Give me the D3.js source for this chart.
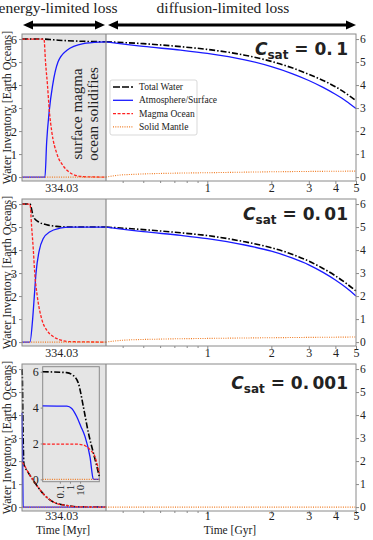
<!DOCTYPE html>
<html>
<head>
<meta charset="utf-8">
<script src="https://cdn.jsdelivr.net/npm/d3@7"></script>
<style>
body { margin: 0; background: #fff; }
svg { font-family: "Liberation Serif", "Times New Roman", serif; }
text { font-family: "Liberation Serif", "Times New Roman", serif; fill: #222; }
</style>
</head>
<body>
<div class="chart"></div>
<script>
// set up chart size
var svgWidth = 373;
var svgHeight = 540;

// panel labels
var csatValues = ['0.1', '0.01', '0.001'];
var legendNames = ['Total Water', 'Atmosphere/Surface', 'Magma Ocean', 'Solid Mantle'];
var yTicks = [0, 1, 2, 3, 4, 5, 6];
var lateMajorTicks = [1, 2, 3, 4, 5];
var lateMinorTicks = [0.4, 0.5, 0.6, 0.7, 0.8, 0.9];
var earlyTick = [28];           // kyr into the magma ocean phase
var earlyStartMyr = 334.002;
var insetTicks = [0.1, 1, 10];
var insetYTicks = [0, 2, 4, 6];

// magma ocean phase: [kyr, Earth oceans]
var early1Total = [[0, 6], [15.7, 6], [20, 5.98], [26, 5.95], [32, 5.93], [45, 5.9], [60, 5.88]];
var early1Atmos = [[0, 0], [16.4, 0], [17.6, 1.5], [19.5, 2.9], [21.9, 4], [25.7, 5], [31.9, 5.5], [43.8, 5.8], [55.7, 5.87], [60, 5.88]];
var early1Magma = [[0, 6], [15.7, 6], [16.8, 5], [18.2, 4], [19.5, 2.9], [21.2, 2], [25, 1], [29.3, 0.5], [33, 0.25], [39, 0.06], [45, 0.015], [60, 0]];
var early1Solid = [[0, 0], [60, 0]];

var early2Total = [[0, 6], [5.7, 6], [8.1, 5.45], [11.6, 5.23], [17.6, 5.1], [24.8, 5.03], [34.3, 5], [60, 5]];
var early2Atmos = [[0, 0], [5.7, 0], [7.6, 1], [8.8, 2], [10, 3], [12.4, 4], [15.2, 4.5], [20, 4.8], [27.1, 4.95], [34.3, 5], [60, 5]];
var early2Magma = [[0, 6], [5.7, 6], [6.9, 5], [8.1, 4], [9.1, 3], [10.9, 2], [14.1, 1], [17.9, 0.5], [22, 0.25], [27.1, 0.1], [34.3, 0.02], [60, 0]];
var early2Solid = [[0, 0], [60, 0]];

var early3Total = [[0, 6], [0.3, 5.5], [0.6, 4], [0.9, 2.8], [1.4, 1.85], [4, 1.55], [8.1, 1.16], [15.2, 0.58], [22.4, 0.22], [31.9, 0.07], [41.4, 0.01], [60, 0]];
var early3Atmos = [[0, 4.1], [0.3, 3], [0.6, 1], [0.8, 0], [60, 0]];
var early3Magma = [[0, 1.95], [1.4, 1.85], [4, 1.55], [8.1, 1.16], [15.2, 0.58], [22.4, 0.22], [31.9, 0.07], [41.4, 0.01], [60, 0]];
var early3Solid = [[0, 0], [60, 0]];

// diffusion-limited phase: [Gyr, Earth oceans]
var late1Total = [[0.334, 5.88], [0.5, 5.8], [0.75, 5.67], [1, 5.55], [1.5, 5.3], [2, 5.03], [2.5, 4.75], [3, 4.47], [3.5, 4.2], [4, 3.93], [4.5, 3.63], [5, 3.32]];
var late1Atmos = [[0.334, 5.88], [0.5, 5.68], [0.75, 5.52], [1, 5.38], [1.5, 5.1], [2, 4.8], [2.5, 4.5], [3, 4.2], [3.5, 3.9], [4, 3.6], [4.5, 3.3], [5, 2.98]];
var late1Solid = [[0.334, 0], [0.38, 0.08], [0.45, 0.12], [0.7, 0.17], [1, 0.19], [2, 0.23], [5, 0.26]];

var late2Total = [[0.334, 5], [0.5, 4.89], [0.75, 4.75], [1, 4.63], [1.5, 4.36], [2, 4.1], [2.5, 3.82], [3, 3.52], [3.5, 3.2], [4, 2.88], [4.5, 2.55], [5, 2.22]];
var late2Atmos = [[0.334, 5], [0.5, 4.8], [0.75, 4.64], [1, 4.5], [1.5, 4.22], [2, 3.95], [2.5, 3.66], [3, 3.36], [3.5, 3.03], [4, 2.7], [4.5, 2.36], [5, 2]];
var late2Solid = [[0.334, 0], [0.4, 0.08], [0.6, 0.13], [1, 0.16], [2, 0.19], [5, 0.22]];

// all water is gone in the third case: only the solid mantle line remains
var late3Solid = [[0.334, 0], [5, 0]];

// inset of the third panel: [time, Earth oceans]
var insetTotal = [[0.002, 6], [0.47, 5.95], [2, 5.8], [6.8, 5.36], [21, 4.06], [68, 2.57], [214, 1.45], [468, 0.7], [800, 0.15]];
var insetAtmos = [[0.002, 4.1], [0.5, 4.08], [1.5, 3.95], [4.6, 3.5], [12, 2.95], [31, 2.38], [96, 1.26], [204, 0.02], [260, 0], [800, 0]];
var insetMagma = [[0.002, 1.97], [5, 1.96], [20, 1.92], [45, 1.82], [120, 1.6], [300, 1.26], [800, 0.33]];
var insetSolid = [[0.002, 0], [800, 0]];

var panels = [
	{ early: [early1Total, early1Atmos, early1Magma, early1Solid], late: [late1Total, late1Atmos, null, late1Solid] },
	{ early: [early2Total, early2Atmos, early2Magma, early2Solid], late: [late2Total, late2Atmos, null, late2Solid] },
	{ early: [early3Total, early3Atmos, early3Magma, early3Solid], late: [null, null, null, late3Solid] }
];

// layout
var plotLeft = 22;
var plotSplit = 106;
var plotRight = 356;
var panelTops = [34, 199, 364];
var panelHeight = 147;
var grey = '#8a8a8a';
var shade = '#e5e5e5';

var styles = [
	{ color: '#000', width: 1.6, dash: '6,2,1.5,2' },
	{ color: '#1a1aff', width: 1.3, dash: null },
	{ color: '#ff2020', width: 1.3, dash: '3,1.6' },
	{ color: '#f07a20', width: 1.1, dash: '1,1.3' }
];

var svg = d3.select('.chart')
	.append('svg')
	.attr('width', svgWidth)
	.attr('height', svgHeight);

// x scales shared by all panels
var xEarly = d3.scaleLinear().domain([0, 60]).range([plotLeft, plotSplit]);
var xLate = d3.scaleLog().domain([0.334, 5]).range([plotSplit, plotRight]);

// arrows and phase titles
function arrow(x1, x2, y) {
	var g = svg.append('g');
	g.append('line')
		.attr('x1', x1 + 6).attr('x2', x2 - 6)
		.attr('y1', y).attr('y2', y)
		.attr('stroke', '#000').attr('stroke-width', 3);
	g.append('path')
		.attr('d', `M${x1},${y} L${x1 + 10},${y - 4.5} L${x1 + 10},${y + 4.5} Z`)
		.attr('fill', '#000');
	g.append('path')
		.attr('d', `M${x2},${y} L${x2 - 10},${y - 4.5} L${x2 - 10},${y + 4.5} Z`)
		.attr('fill', '#000');
}
arrow(xEarly.range()[0] + 1, xEarly.range()[1] - 1, 25);
arrow(xLate.range()[0] + 2, xLate.range()[1], 25);

svg.append('text')
	.attr('x', 58).attr('y', 13)
	.attr('text-anchor', 'middle')
	.style('font-size', '15.5px')
	.text('energy-limited loss');
svg.append('text')
	.attr('x', 223).attr('y', 13)
	.attr('text-anchor', 'middle')
	.style('font-size', '15.5px')
	.text('diffusion-limited loss');

panels.forEach(function(panel, i) {
	var top = panelTops[i];
	var bottom = top + panelHeight;
	var last = i === 2;
	var y = d3.scaleLinear().domain([-0.17, 6.22]).range([bottom, top]);
	var g = svg.append('g');

	// shaded magma ocean phase
	g.append('rect')
		.attr('x', plotLeft).attr('y', top)
		.attr('width', plotSplit - plotLeft).attr('height', panelHeight)
		.attr('fill', shade);

	// curves
	var lineEarly = d3.line()
		.x(function(d) { return xEarly(d[0]); })
		.y(function(d) { return y(d[1]); })
		.curve(d3.curveMonotoneX);
	var lineLate = d3.line()
		.x(function(d) { return xLate(d[0]); })
		.y(function(d) { return y(d[1]); })
		.curve(d3.curveMonotoneX);

	[0, 1, 2, 3].forEach(function(k) {
		var s = styles[k];
		[[panel.early[k], lineEarly], [panel.late[k], lineLate]].forEach(function(pair) {
			if (!pair[0]) return;
			g.append('path')
				.datum(pair[0])
				.attr('d', pair[1])
				.attr('fill', 'none')
				.attr('stroke', s.color)
				.attr('stroke-width', s.width)
				.attr('stroke-dasharray', s.dash);
		});
	});

	// frame and separator
	g.append('rect')
		.attr('x', plotLeft).attr('y', top)
		.attr('width', plotRight - plotLeft).attr('height', panelHeight)
		.attr('fill', 'none').attr('stroke', grey).attr('stroke-width', 1);
	g.append('line')
		.attr('x1', plotSplit).attr('x2', plotSplit)
		.attr('y1', top).attr('y2', bottom)
		.attr('stroke', grey).attr('stroke-width', 1.2);

	// axes
	var leftAxis = d3.axisLeft(y).tickValues(yTicks).tickSize(3).tickPadding(2).tickFormat(d3.format('d'));
	var rightAxis = d3.axisRight(y).tickValues(yTicks).tickSize(3).tickPadding(1).tickFormat(d3.format('d'));
	var earlyAxis = d3.axisBottom(xEarly).tickValues(earlyTick).tickSize(0).tickPadding(last ? 0 : 2)
		.tickFormat(function(d) { return (earlyStartMyr + d / 1000).toFixed(2); });
	var lateAxis = d3.axisBottom(xLate).tickValues(lateMajorTicks).tickSize(3).tickPadding(last ? -3 : -1).tickFormat(d3.format('d'));
	var lateMinor = d3.axisBottom(xLate).tickValues(lateMinorTicks).tickSize(2).tickFormat('');

	var ga = g.append('g').attr('class', 'axis').attr('transform', `translate(${plotLeft},0)`).call(leftAxis);
	ga.selectAll('text').style('font-size', '12.5px');
	var gr = g.append('g').attr('class', 'axis').attr('transform', `translate(${plotRight},0)`).call(rightAxis);
	gr.selectAll('text').style('font-size', '11.5px');
	var ge = g.append('g').attr('class', 'axis').attr('transform', `translate(0,${bottom})`).call(earlyAxis);
	ge.selectAll('text').style('font-size', '12px');
	var gl = g.append('g').attr('class', 'axis').attr('transform', `translate(0,${bottom})`).call(lateAxis);
	gl.selectAll('text').style('font-size', '12px');
	g.append('g').attr('class', 'axis').attr('transform', `translate(0,${bottom})`).call(lateMinor);

	g.selectAll('.axis').attr('font-family', null);
	g.selectAll('.axis .domain').remove();
	g.selectAll('.axis line').attr('stroke', grey);
	g.selectAll('.axis text').attr('fill', '#222');

	// y label
	g.append('text')
		.attr('transform', `translate(10.5, ${top + panelHeight / 2}) rotate(-90)`)
		.attr('text-anchor', 'middle')
		.style('font-size', '12px')
		.text('Water Inventory [Earth Oceans]');

	// C_sat label
	var lab = g.append('text')
		.attr('x', 348).attr('y', top + (last ? 25 : 21))
		.attr('text-anchor', 'end')
		.style('font-family', '"DejaVu Sans", sans-serif')
		.style('font-weight', 'bold')
		.style('font-size', '17px')
		.attr('fill', '#000');
	lab.append('tspan').style('font-style', 'italic').text('C');
	lab.append('tspan').attr('dy', 4).style('font-size', '12px').text('sat');
	lab.append('tspan').attr('dy', -4).text(' = ' + csatValues[i].replace('.', '.\u2009'));

	if (i === 0) {
		// annotation
		var ann = g.append('text')
			.attr('transform', `translate(0, ${top + 80}) rotate(-90)`)
			.attr('text-anchor', 'middle')
			.style('font-size', '15px');
		ann.append('tspan').attr('x', 0).attr('y', 82).text('surface magma');
		ann.append('tspan').attr('x', 0).attr('y', 97.5).text('ocean solidifies');

		// legend
		var lg = g.append('g').attr('transform', `translate(110, ${top + 46})`);
		lg.append('rect')
			.attr('width', 87).attr('height', 55).attr('rx', 2)
			.attr('fill', '#fff').attr('fill-opacity', 0.9)
			.attr('stroke', '#cfcfcf').attr('stroke-width', 0.8);
		legendNames.forEach(function(name, k) {
			var yy = 7 + k * 13.3;
			lg.append('line')
				.attr('x1', 3).attr('x2', 23)
				.attr('y1', yy).attr('y2', yy)
				.attr('stroke', styles[k].color)
				.attr('stroke-width', styles[k].width)
				.attr('stroke-dasharray', k === 0 ? '7,2' : styles[k].dash);
			lg.append('text')
				.attr('x', 29).attr('y', yy + 3)
				.style('font-size', '9.5px')
				.text(name);
		});
	}

	if (last) {
		// inset
		var ix = d3.scaleLog().domain([0.002, 800]).range([42.7, 99.3]);
		var iy = d3.scaleLinear().domain([-0.13, 6.28]).range([481.7, 366.7]);
		var ig = g.append('g');
		ig.append('rect')
			.attr('x', 42.7).attr('y', 366.7)
			.attr('width', 99.3 - 42.7).attr('height', 481.7 - 366.7)
			.attr('fill', shade).attr('stroke', grey).attr('stroke-width', 1);
		var lineInset = d3.line()
			.x(function(d) { return ix(d[0]); })
			.y(function(d) { return iy(d[1]); })
			.curve(d3.curveMonotoneX);
		var insetData = [insetTotal, insetAtmos, insetMagma, insetSolid];
		[0, 1, 2, 3].forEach(function(k) {
			ig.append('path')
				.datum(insetData[k])
				.attr('d', lineInset)
				.attr('fill', 'none')
				.attr('stroke', styles[k].color)
				.attr('stroke-width', styles[k].width)
				.attr('stroke-dasharray', styles[k].dash);
		});
		var iya = ig.append('g').attr('class', 'axis').attr('transform', 'translate(42.7,0)')
			.call(d3.axisLeft(iy).tickValues(insetYTicks).tickSize(2).tickPadding(2).tickFormat(d3.format('d')));
		iya.selectAll('text').style('font-size', '12px');
		var ixa = ig.append('g').attr('class', 'axis').attr('transform', 'translate(0,481.7)')
			.call(d3.axisBottom(ix).tickValues(insetTicks).tickSize(2).tickFormat(function(d) { return d >= 1 ? d3.format('d')(d) : d; }));
		ixa.selectAll('text')
			.style('font-size', '11px')
			.attr('text-anchor', 'end')
			.attr('dy', '0.35em')
			.attr('transform', 'translate(0,3) rotate(-90)')
			.attr('x', 0).attr('y', 0);
		ig.selectAll('.axis').attr('font-family', null);
		ig.selectAll('.axis .domain').remove();
		ig.selectAll('.axis line').attr('stroke', grey);

		// time labels
		g.append('text')
			.attr('x', 63).attr('y', 533.5)
			.attr('text-anchor', 'middle')
			.style('font-size', '11.5px')
			.text('Time [Myr]');
		g.append('text')
			.attr('x', 230).attr('y', 533.5)
			.attr('text-anchor', 'middle')
			.style('font-size', '11.5px')
			.text('Time [Gyr]');
	}
});
</script>
</body>
</html>
